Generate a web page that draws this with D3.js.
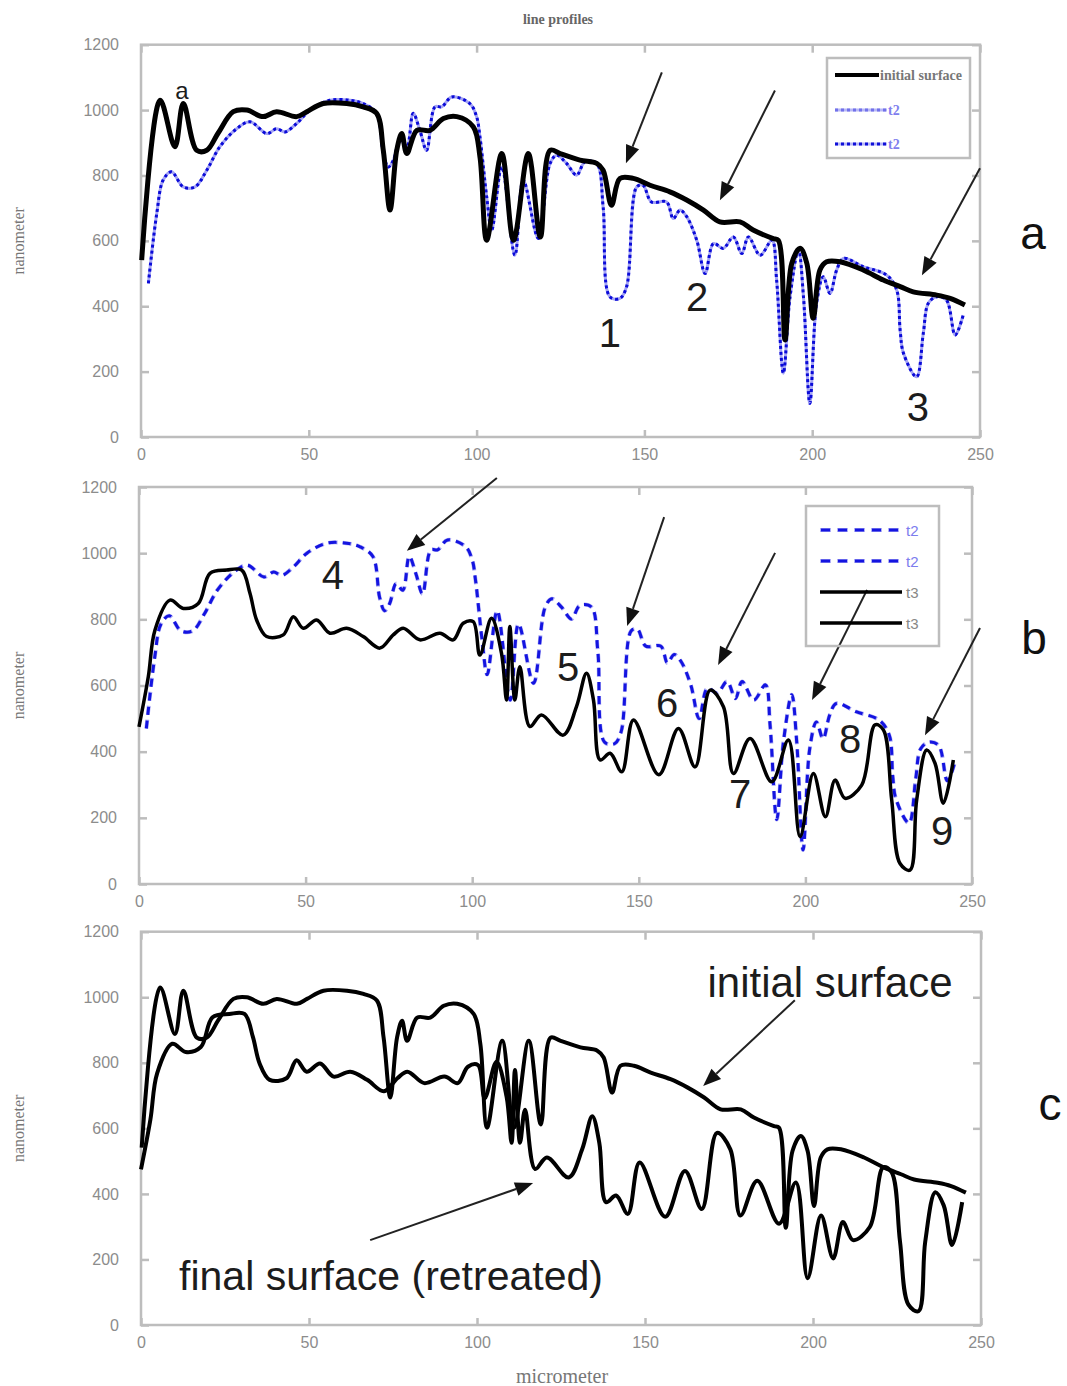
<!DOCTYPE html>
<html><head><meta charset="utf-8">
<script src="https://cdn.jsdelivr.net/npm/d3@7"></script>
<style>body{margin:0;background:#fff}svg{display:block}</style>
</head><body><svg id="c" width="1067" height="1386"></svg>
<script>
// ---------- data ----------
const xTicks = [0, 50, 100, 150, 200, 250];
const yTicks = [0, 200, 400, 600, 800, 1000, 1200];

const initialX = [0.2,5.7,10.1,12.6,16.6,19.6,23,27.5,31.5,36.4,40.4,46.4,49.4,54.3,61.3,66.2,70.2,72.2,74.2,76.2,77.7,79.2,82.2,86.1,90.1,94.1,99,101,103,107.5,111,115.4,119,121.9,124.9,130.8,135.8,137.7,140.2,142.7,146.7,151.7,157.6,162.6,167.6,172.5,178.5,182.4,188.4,189.9,191.9,193.9,196.4,198.4,200.3,202.3,204.3,208.3,215.2,221.2,226.2,230.1,237.1,241.1,245.5];
const initialY = [541,1030,888,1020,877,877,930,995,1000,980,995,980,995,1020,1020,1010,990,877,694,877,928,867,938,938,974,980,949,857,602,867,602,867,612,877,867,847,837,816,709,791,791,770,750,725,694,658,658,633,607,602,297,531,577,531,363,511,536,536,511,480,460,444,434,424,404];

const t2X = [2.2,4.7,6.6,9.1,12.6,16.1,19.6,23.5,28.5,32.5,37.5,40.4,42.9,46.4,50.4,56.3,62.3,66.2,70.2,72.2,73.7,75.2,77.2,79.2,81.1,83.1,85.1,87.6,89.6,92.6,98,100,101,103,104.5,107.5,111.4,113.9,118.4,121.9,123.9,126.8,129.8,132.3,135.8,137.7,139.7,142.7,144.7,147.7,149.6,152.1,156.6,158.6,160.6,162.6,165.6,168.1,170.6,173.5,176.5,179,181,184.5,188,189.4,191.4,193.4,195.9,197.4,199.3,201.3,203.3,205.3,207.3,209.3,215.2,222.2,225.2,226.2,227.2,231.1,233.1,234.6,237.1,240,242.6,245];
const t2Y = [470,684,786,811,765,765,816,888,943,964,928,943,933,959,1000,1030,1030,1020,990,867,826,847,908,888,990,938,877,1010,1010,1040,1020,980,918,735,633,826,556,786,607,837,862,837,801,842,837,704,429,424,460,765,770,719,719,668,694,674,602,500,592,577,612,561,612,556,602,480,195,429,572,429,103,409,490,439,511,546,521,495,449,327,256,184,317,409,429,419,312,373];

const t3X = [0,2.8,4.8,9.3,13.3,17.8,21.3,26.3,30.8,33.3,35.3,38.3,43.3,46.3,49.3,53.3,57.3,62.3,67.3,72.3,76.3,79.3,84.3,90.3,94.3,97.3,100.3,102.3,105.8,108.8,110.3,111.3,112.8,114.3,117.3,120.8,127.3,131.3,134.3,136.4,138.4,141.4,144.9,148.4,156,161.9,166.9,171.4,175.4,178.4,183.4,189.9,194.9,198.4,202.4,206,208.9,211.9,216.9,220.9,223.4,225.9,228.4,231.4,233.4,236.4,238.9,241.4,244.4];
const t3Y = [475,627,768,858,833,848,939,949,949,879,798,748,753,808,773,798,758,773,748,713,753,773,738,758,738,788,793,692,803,697,556,778,556,657,476,511,450,536,637,556,375,395,339,496,330,470,354,586,536,334,440,309,435,143,334,203,314,259,299,481,466,254,62,42,254,405,365,244,375];

const legendA = ["initial surface", "t2", "t2"];
const legendB = ["t2", "t2", "t3", "t3"];
const panelLetters = ["a", "b", "c"];
const numbersA = ["1", "2", "3"];
const numbersB = ["4", "5", "6", "7", "8", "9"];
const labelsC = ["initial surface", "final surface (retreated)"];
const titleText = "line profiles";
const yTitle = "nanometer";
const xTitle = "micrometer";

// ---------- drawing ----------
const svg = d3.select("#c");
const GRAY = "#bdbdbd", TXT = "#8c8c8c";
const zip = (xs, ys) => xs.map((x, i) => [x, ys[i]]);
const initial = zip(initialX, initialY), t2 = zip(t2X, t2Y), t3 = zip(t3X, t3Y);

svg.append("text").attr("x", 558).attr("y", 19).attr("text-anchor", "middle").attr("dominant-baseline", "central")
  .attr("font-family", "Liberation Serif, Times").attr("font-size", 14).attr("font-weight", "bold")
  .attr("fill", "#666").text(titleText);

function panel(box) {
  const x = d3.scaleLinear().domain([0, 250]).range([box.l, box.r]);
  const y = d3.scaleLinear().domain([0, 1200]).range([box.b, box.t]);
  const g = svg.append("g");
  const styleAxis = sel => {
    sel.selectAll("path.domain").remove();
    sel.selectAll("line").attr("stroke", GRAY).attr("stroke-width", 2.5);
    sel.selectAll("text").attr("fill", TXT).attr("font-family", "Liberation Sans, Arial").attr("font-size", 16);
  };
  const fmt = d3.format("d");
  g.append("g").attr("transform", `translate(${box.l},0)`)
    .call(d3.axisLeft(y).tickValues(yTicks).tickFormat(fmt).tickSize(-8).tickPadding(22)).call(styleAxis);
  g.append("g").attr("transform", `translate(0,${box.b})`)
    .call(d3.axisBottom(x).tickValues(xTicks).tickFormat(fmt).tickSize(-7).tickPadding(12)).call(styleAxis);
  g.append("g").attr("transform", `translate(0,${box.t})`)
    .call(d3.axisTop(x).tickValues(xTicks).tickSize(-8).tickFormat("")).call(styleAxis);
  g.append("g").attr("transform", `translate(${box.r},0)`)
    .call(d3.axisRight(y).tickValues(yTicks).tickSize(-8).tickFormat("")).call(styleAxis);
  g.append("rect").attr("x", box.l).attr("y", box.t).attr("width", box.r - box.l).attr("height", box.b - box.t)
    .attr("fill", "none").attr("stroke", GRAY).attr("stroke-width", 2.5);
  svg.append("text").attr("transform", `translate(18,${(box.t + box.b) / 2}) rotate(-90)`)
    .attr("text-anchor", "middle").attr("dominant-baseline", "central")
    .attr("font-family", "Liberation Serif, Times").attr("font-size", 16)
    .attr("fill", "#777").text(yTitle);
  const line = d3.line().x(d => x(d[0])).y(d => y(d[1])).curve(d3.curveCatmullRom.alpha(0.5));
  return { x, y, g, line };
}

function path(p, data, stroke, width, dash) {
  const e = p.g.append("path").attr("d", p.line(data)).attr("fill", "none")
    .attr("stroke", stroke).attr("stroke-width", width).attr("stroke-linejoin", "round");
  if (dash) e.attr("stroke-dasharray", dash);
  return e;
}

function arrow(x1, y1, x2, y2, w) {
  const dx = x2 - x1, dy = y2 - y1, L = Math.hypot(dx, dy), ux = dx / L, uy = dy / L;
  const hl = 18, hw = 7;
  const bx = x2 - ux * hl, by = y2 - uy * hl;
  svg.append("line").attr("x1", x1).attr("y1", y1).attr("x2", bx).attr("y2", by)
    .attr("stroke", "#222").attr("stroke-width", w || 2);
  svg.append("polygon").attr("points",
    `${x2},${y2} ${bx - uy * hw},${by + ux * hw} ${bx + uy * hw},${by - ux * hw}`).attr("fill", "#111");
}
function arrowD(p, a) { arrow(p.x(a[0]), p.y(a[1]), p.x(a[2]), p.y(a[3])); }

function label(txt, px, py, size, anchor) {
  svg.append("text").attr("x", px).attr("y", py).attr("text-anchor", anchor || "middle")
    .attr("dominant-baseline", "central")
    .attr("font-family", "Liberation Sans, Arial").attr("font-size", size).attr("fill", "#1c1c1c").text(txt);
}

// ----- panel a -----
const A = panel({ l: 141, t: 44.7, r: 980, b: 437 });
path(A, t2, "#a4a4f4", 3);
path(A, t2, "#0a0ad8", 3, "3,3");
path(A, initial, "#000", 5);
[[155.2,1115,144.5,837],[188.9,1060,172.5,724],[250,822,232.7,495]].forEach(a => arrowD(A, a));
[[139.7,318],[165.7,428],[231.5,92]].forEach((p, i) => label(numbersA[i], A.x(p[0]), A.y(p[1]), 40));
label("a", A.x(12.2), A.y(1060), 24);
// legend a
{
  const lx = 827, ly = 58;
  svg.append("rect").attr("x", lx).attr("y", ly).attr("width", 143).attr("height", 100)
    .attr("fill", "#fff").attr("stroke", GRAY).attr("stroke-width", 2.5);
  svg.append("line").attr("x1", 835).attr("x2", 879).attr("y1", 75).attr("y2", 75).attr("stroke", "#000").attr("stroke-width", 4);
  const rowsY = [75, 110, 144];
  [["#b8b8f6", "#7272ea"], ["#b8b8f6", "#1010d8"]].forEach((c, i) => {
    svg.append("line").attr("x1", 835).attr("x2", 887).attr("y1", rowsY[i + 1]).attr("y2", rowsY[i + 1]).attr("stroke", c[0]).attr("stroke-width", 3);
    svg.append("line").attr("x1", 835).attr("x2", 887).attr("y1", rowsY[i + 1]).attr("y2", rowsY[i + 1]).attr("stroke", c[1]).attr("stroke-width", 3).attr("stroke-dasharray", "3,3");
  });
  legendA.forEach((t, i) => svg.append("text").attr("x", i === 0 ? 880 : 888).attr("y", rowsY[i])
    .attr("dominant-baseline", "central").attr("font-family", "Liberation Serif, Times").attr("font-size", 14)
    .attr("font-weight", "bold").attr("fill", i === 0 ? "#777" : "#8080ee").text(t));
}
svg.append("text").attr("x", 1033).attr("y", 233).attr("text-anchor", "middle").attr("dominant-baseline", "central")
  .attr("font-family", "Liberation Sans, Arial").attr("font-size", 46).attr("fill", "#111").text(panelLetters[0]);

// ----- panel b -----
const B = panel({ l: 139, t: 487, r: 972, b: 884 });
path(B, t2, "#b0b0f6", 4, "9,5");
path(B, t2, "#1414e0", 3, "8,6");
path(B, t3, "#000", 3.5);
[[107.4,1227,80.4,1007],[157.6,1109,146.5,780],[190.9,1001,173.8,662],[218.5,889,202,556],[252.4,774,235.9,450]].forEach(a => arrowD(B, a));
[[58.2,934],[128.8,656],[158.5,547],[180.4,272],[213.4,438],[241,160]].forEach((p, i) => label(numbersB[i], B.x(p[0]), B.y(p[1]), 40));
{
  svg.append("rect").attr("x", 806).attr("y", 506).attr("width", 133).attr("height", 140)
    .attr("fill", "none").attr("stroke", GRAY).attr("stroke-width", 2.5);
  const rowsY = [530, 561, 592, 623];
  legendB.forEach((t, i) => {
    const blue = t === "t2";
    if (blue) {
      svg.append("line").attr("x1", 820).attr("x2", 902).attr("y1", rowsY[i]).attr("y2", rowsY[i]).attr("stroke", "#b0b0f6").attr("stroke-width", 4).attr("stroke-dasharray", "11,6");
      svg.append("line").attr("x1", 821).attr("x2", 902).attr("y1", rowsY[i]).attr("y2", rowsY[i]).attr("stroke", "#1414e0").attr("stroke-width", 3).attr("stroke-dasharray", "9,8");
    } else {
      svg.append("line").attr("x1", 820).attr("x2", 902).attr("y1", rowsY[i]).attr("y2", rowsY[i]).attr("stroke", "#000").attr("stroke-width", 3.5);
    }
    svg.append("text").attr("x", 906).attr("y", rowsY[i]).attr("dominant-baseline", "central")
      .attr("font-family", "Liberation Sans, Arial").attr("font-size", 15).attr("fill", blue ? "#7c7cee" : "#888").text(t);
  });
}
svg.append("text").attr("x", 1034).attr("y", 638).attr("text-anchor", "middle").attr("dominant-baseline", "central")
  .attr("font-family", "Liberation Sans, Arial").attr("font-size", 46).attr("fill", "#111").text(panelLetters[1]);

// ----- panel c -----
const C = panel({ l: 141, t: 931.7, r: 981, b: 1325 });
path(C, initial, "#000", 4);
path(C, t3, "#000", 4);
arrowD(C, [194.6,991,167.3,729]);
arrowD(C, [68.2,259,116.7,433]);
label(labelsC[0], 830, 982, 42);
label(labelsC[1], 391, 1276, 41);
svg.append("text").attr("x", 1050).attr("y", 1104).attr("text-anchor", "middle").attr("dominant-baseline", "central")
  .attr("font-family", "Liberation Sans, Arial").attr("font-size", 46).attr("fill", "#111").text(panelLetters[2]);

svg.append("text").attr("x", 562).attr("y", 1376).attr("text-anchor", "middle").attr("dominant-baseline", "central")
  .attr("font-family", "Liberation Serif, Times").attr("font-size", 20).attr("fill", "#777").text(xTitle);
</script></body></html>
